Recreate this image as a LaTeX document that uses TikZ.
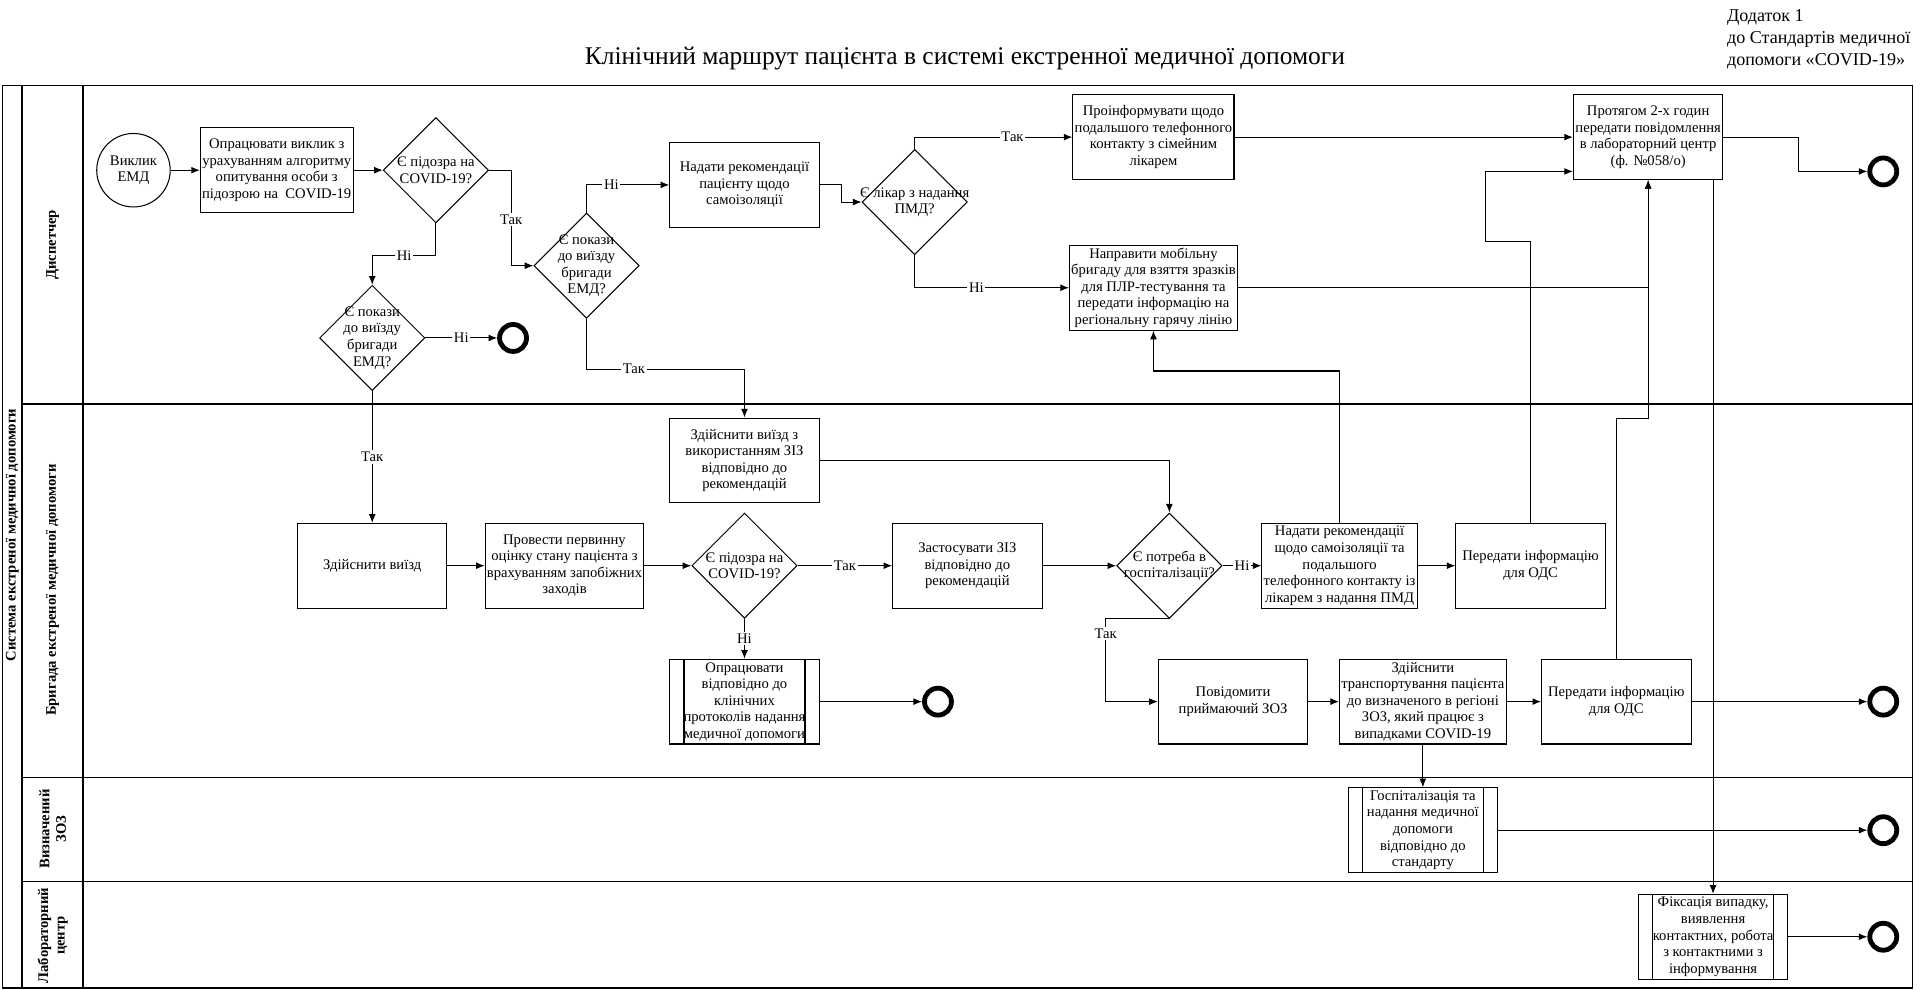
\documentclass[tikz,border=0pt]{standalone}
\usepackage{fontspec}
\setmainfont{Liberation Serif}
\usetikzlibrary{shapes.geometric,arrows.meta}
\newcommand\boxfont{\fontsize{8.5}{9.6}\selectfont}
\begin{document}
\begin{tikzpicture}[x=0.025cm,y=-0.025cm,line width=0.6pt,
  task/.style={draw,rectangle,minimum width=3.05cm,minimum height=1.73cm,inner sep=1pt,align=center,font=\boxfont},
  subproc/.style={task,path picture={
    \draw ([xshift=0.29cm]path picture bounding box.north west) -- ([xshift=0.29cm]path picture bounding box.south west);
    \draw ([xshift=-0.29cm]path picture bounding box.north east) -- ([xshift=-0.29cm]path picture bounding box.south east);}},
  decision/.style={draw,diamond,minimum width=2.15cm,minimum height=2.15cm,inner sep=0pt},
  dtext/.style={align=center,font=\boxfont,inner sep=0pt},
  startev/.style={draw,circle,minimum size=1.5cm,inner sep=0pt,align=center,font=\boxfont},
  endev/.style={draw,circle,line width=2.8pt,minimum size=0.55cm,inner sep=0pt},
  flow/.style={-{Latex[length=5pt,width=4pt]}},
  lbl/.style={fill=white,inner sep=1pt,font=\boxfont},
  lanebox/.style={line width=0.9pt},
  lanelbl/.style={rotate=90,align=center,font=\boxfont\bfseries}]
\useasboundingbox (0,0) rectangle (1568,808);

\node[font=\fontsize{14.8}{17}\selectfont] (title) at (788,48) {Клінічний маршрут пацієнта в системі екстренної медичної допомоги};
\node[anchor=north west,align=left,inner sep=0pt,font=\fontsize{10.5}{12.8}\selectfont] (annex) at (1410,7) {Додаток 1\\до Стандартів медичної\\допомоги «COVID-19»};

\draw[lanebox] (2,70) rectangle (1562,807);
\draw[lanebox] (18,70) -- (18,807);
\draw[lanebox] (68,70) -- (68,807);
\draw[lanebox] (18,330) -- (1562,330);
\draw[lanebox] (18,635) -- (1562,635);
\draw[lanebox] (18,720) -- (1562,720);

\node[lanelbl] (pool) at (10,437) {Система екстреної медичної допомоги};
\node[lanelbl] (lane1) at (43,200) {Диспетчер};
\node[lanelbl] (lane2) at (43,482) {Бригада екстреної медичної допомоги};
\node[lanelbl] (lane3) at (43,677) {Визначений\\ЗОЗ};
\node[lanelbl] (lane4) at (43,764) {Лабораторний\\центр};

\node[startev] (start) at (109,139) {Виклик\\ЕМД};
\node[task] (t1) at (226,139) {Опрацювати виклик з\\урахуванням алгоритму\\опитування особи з\\підозрою на~~COVID-19};
\node[decision,label={[dtext]center:{Є підозра на\\COVID-19?}}] (d1) at (356,139) {};
\node[decision,label={[dtext]center:{Є покази\\до виїзду\\бригади\\ЕМД?}}] (d2) at (304,276) {};
\node[endev] (e1) at (419,276) {};
\node[decision,label={[dtext]center:{Є покази\\до виїзду\\бригади\\ЕМД?}}] (d3) at (479,217) {};
\node[task] (t2) at (608,151) {Надати рекомендації\\пацієнту щодо\\самоізоляції};
\node[decision,label={[dtext]center:{Є лікар з надання\\ПМД?}}] (d4) at (747,165) {};
\node[task] (t3) at (942,112) {Проінформувати щодо\\подальшого телефонного\\контакту з сімейним\\лікарем};
\node[task] (t4) at (942,235) {Направити мобільну\\бригаду для взяття зразків\\для ПЛР-тестування та\\передати інформацію на\\регіональну гарячу лінію};
\node[task] (t5) at (1346,112) {Протягом 2-х годин\\передати повідомлення\\в лабораторний центр\\(ф. №058/о)};
\node[endev] (e2) at (1538,140) {};

\node[task] (t6) at (608,376) {Здійснити виїзд з\\використанням ЗІЗ\\відповідно до\\рекомендацій};
\node[task] (t7) at (304,462) {Здійснити виїзд};
\node[task] (t8) at (461,462) {Провести первинну\\оцінку стану пацієнта з\\врахуванням запобіжних\\заходів};
\node[decision,label={[dtext]center:{Є підозра на\\COVID-19?}}] (d5) at (608,462) {};
\node[subproc] (sp1) at (608,573) {Опрацювати\\відповідно до\\клінічних\\протоколів надання\\медичної допомоги};
\node[endev] (e3) at (766,573) {};
\node[task] (t9) at (790,462) {Застосувати ЗІЗ\\відповідно до\\рекомендацій};
\node[decision,label={[dtext]center:{Є потреба в\\госпіталізації?}}] (d6) at (955,462) {};
\node[task] (t10) at (1094,462) {Надати рекомендації\\щодо самоізоляції та\\подальшого\\телефонного контакту із\\лікарем з надання ПМД};
\node[task] (t11) at (1250,462) {Передати інформацію\\для ОДС};
\node[task] (t12) at (1007,573) {Повідомити\\приймаючий ЗОЗ};
\node[task,minimum width=3.28cm] (t13) at (1162,573) {Здійснити\\транспортування пацієнта\\до визначеного в регіоні\\ЗОЗ, який працює з\\випадками COVID-19};
\node[task] (t14) at (1320,573) {Передати інформацію\\для ОДС};
\node[endev] (e4) at (1538,573) {};

\node[subproc] (sp2) at (1162,678) {Госпіталізація та\\надання медичної\\допомоги\\відповідно до\\стандарту};
\node[endev] (e5) at (1538,678) {};
\node[subproc] (sp3) at (1399,765) {Фіксація випадку,\\виявлення\\контактних, робота\\з контактними з\\інформування};
\node[endev] (e6) at (1538,765) {};

\draw[flow] (start) -- (t1);
\draw[flow] (t1) -- (d1);
\draw[flow] (d1.east) -- ++(18,0) |- (d3.west) node[lbl,pos=0.26] {Так};
\draw[flow] (d1.south) -- ++(0,26) -| (d2.north) node[lbl,pos=0.25] {Ні};
\draw[flow] (d2) -- (e1) node[lbl,midway] {Ні};
\draw[flow] (d3.north) |- (t2.west) node[lbl,pos=0.65] {Ні};
\draw[flow] (d3.south) -- ++(0,41) -| (t6.north) node[lbl,pos=0.15] {Так};
\draw[flow] (d2) -- (t7) node[lbl,midway] {Так};
\draw[flow] (t2.east) -- ++(18,0) |- (d4.west);
\draw[flow] (d4.north) |- (t3.west) node[lbl,pos=0.81] {Так};
\draw[flow] (d4.south) |- (t4.west) node[lbl,pos=0.7] {Ні};
\draw[flow] (t3) -- (t5);
\draw[flow] (t4.east) -| (t5.south);
\draw[flow] (t5.east) -- ++(61,0) |- (e2);
\draw[flow] (t5.south -| sp3.north) -- (sp3.north);

\draw[flow] (t6.east) -| (d6.north);
\draw[flow] (t7) -- (t8);
\draw[flow] (t8) -- (d5);
\draw[flow] (d5) -- (t9) node[lbl,midway] {Так};
\draw[flow] (d5) -- (sp1) node[lbl,midway] {Ні};
\draw[flow] (sp1) -- (e3);
\draw[flow] (t9) -- (d6);
\draw[flow] (d6) -- (t10) node[lbl,midway] {Ні};
\draw[flow] (t10) -- (t11);
\draw[flow] (d6.south) -- ++(-52,0) |- (t12.west) node[lbl,pos=0.09] {Так};
\draw[flow] (t12) -- (t13);
\draw[flow] (t13) -- (t14);
\draw[flow] (t14) -- (e4);
\draw[flow] (t13) -- (sp2);
\draw[flow] (sp2) -- (e5);
\draw[flow] (sp3) -- (e6);
\draw[flow] (t10.north) -- ++(0,-124) -| (t4.south);
\draw[flow] (t11.north) -- ++(0,-230) -- ++(-37,0) |- ([yshift=-0.7cm]t5.west);
\draw[flow] (t14.north) -- ++(0,-196) -| (t5.south);
\end{tikzpicture}
\end{document}
